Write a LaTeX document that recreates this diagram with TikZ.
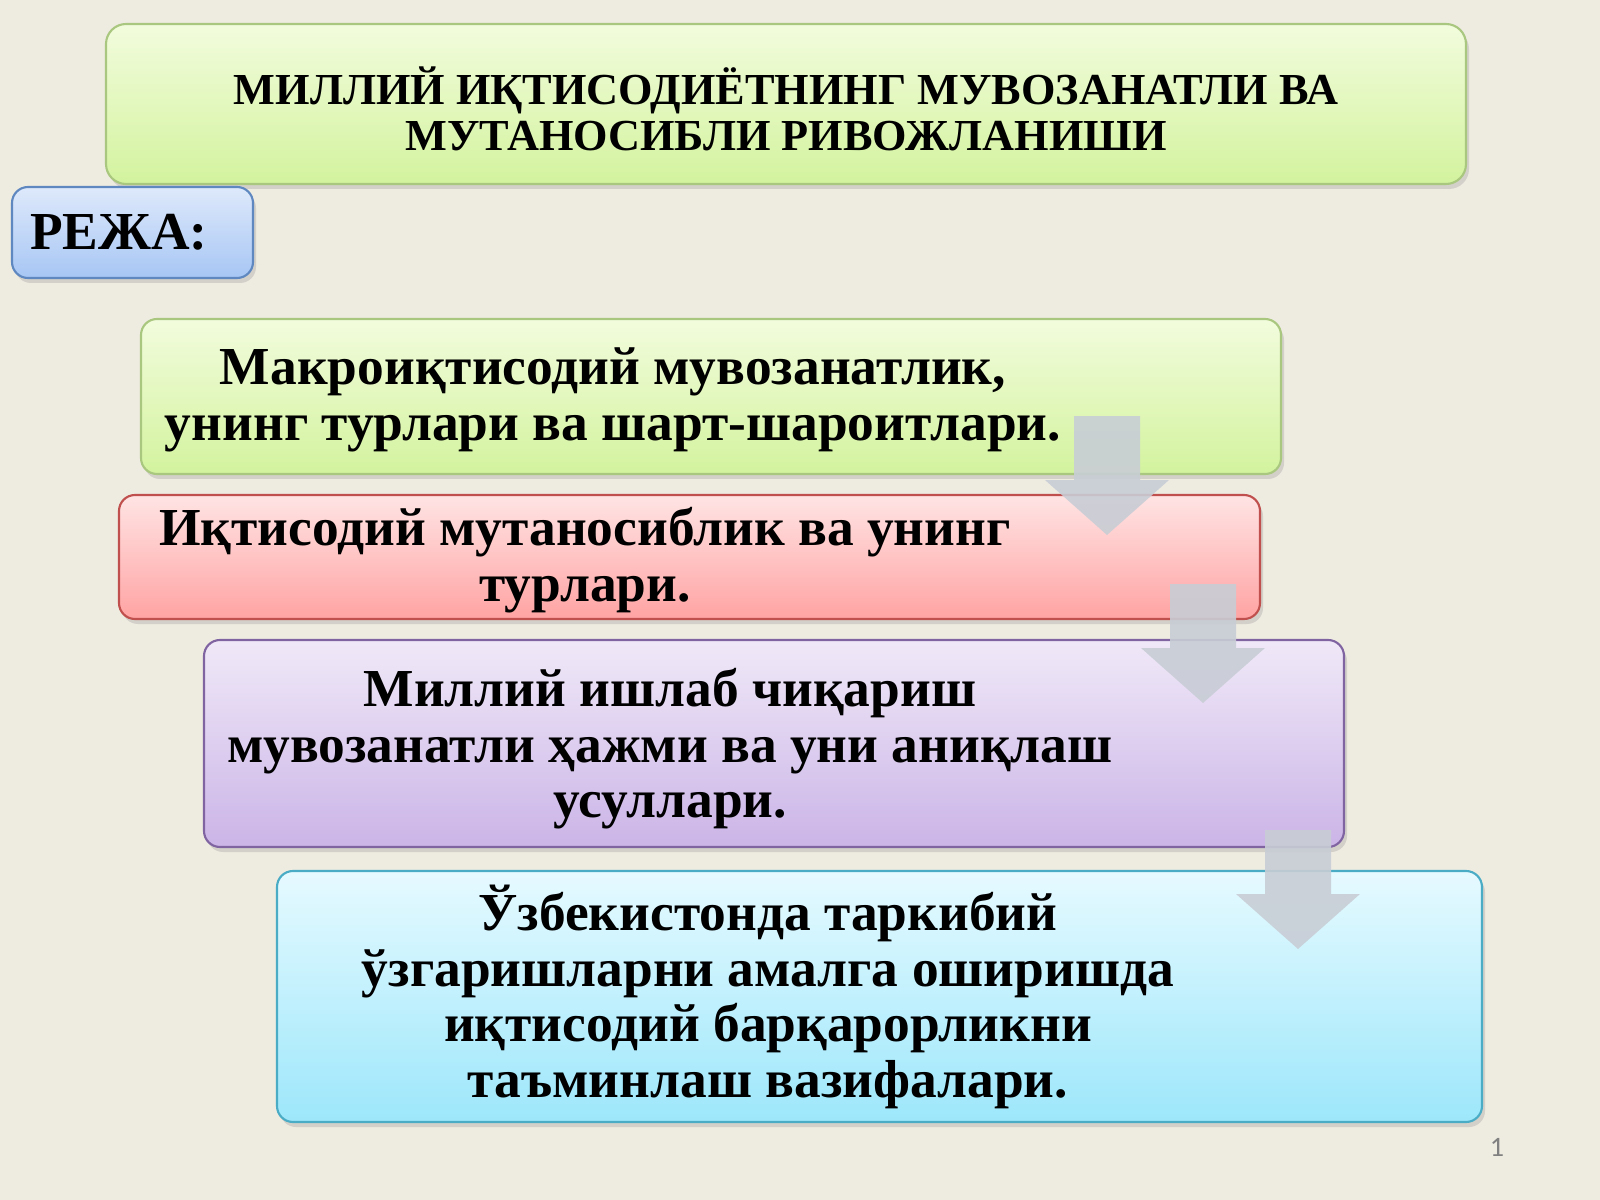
\documentclass[tikz,border=0pt]{standalone}
\usepackage{fontspec}
\setmainfont{Liberation Serif}
\newfontfamily\pagefont{Carlito}
\usetikzlibrary{shadows}

\definecolor{slidebg}{HTML}{EEEBE1}
\definecolor{greentop}{HTML}{F2FCDD}
\definecolor{greenbot}{HTML}{D3F39E}
\definecolor{greenline}{HTML}{A9C77E}
\definecolor{redtop}{HTML}{FFE4E4}
\definecolor{redbot}{HTML}{FFA3A3}
\definecolor{redline}{HTML}{C0504D}
\definecolor{lilactop}{HTML}{F0E9F8}
\definecolor{lilacbot}{HTML}{CBB4E7}
\definecolor{lilacline}{HTML}{8064A2}
\definecolor{cyantop}{HTML}{E6FAFF}
\definecolor{cyanbot}{HTML}{9DE7FB}
\definecolor{cyanline}{HTML}{4BACC6}
\definecolor{bluetop}{HTML}{DEE9FB}
\definecolor{bluebot}{HTML}{A7C6F4}
\definecolor{blueline}{HTML}{5F88C0}
\definecolor{arrowgray}{HTML}{C8CDD5}

\begin{document}
\begin{tikzpicture}[
  x=0.1mm, y=-0.1mm,
  plate/.style={rounded corners=1.6mm, line width=0.6pt, inner sep=0pt,
    drop shadow={shadow xshift=0.3mm, shadow yshift=-0.5mm, opacity=0.25}},
  greenplate/.style={plate, draw=greenline, top color=greentop, bottom color=greenbot},
  redplate/.style={plate, draw=redline, top color=redtop, bottom color=redbot},
  lilacplate/.style={plate, draw=lilacline, top color=lilactop, bottom color=lilacbot},
  cyanplate/.style={plate, draw=cyanline, top color=cyantop, bottom color=cyanbot},
  blueplate/.style={plate, draw=blueline, top color=bluetop, bottom color=bluebot},
  bodytext/.style={font=\fontsize{15.2}{15.8}\selectfont\bfseries, align=center, inner sep=0pt},
  headtext/.style={font=\fontsize{12.6}{13.1}\selectfont\bfseries, align=center, inner sep=0pt},
  downarrow/.pic={
    \fill[arrowgray, opacity=0.9] (-33,0) -- (33,0) -- (33,64) -- (62,64) -- (0,119)
      -- (-62,64) -- (-33,64) -- cycle;
  }
]
\fill[slidebg] (0,0) rectangle (1600,1200);

% title and plan label
\node[greenplate, rounded corners=2mm, minimum width=136mm, minimum height=16mm] (title) at (786,104) {};
\node[headtext] (titletext) at (786,109) {МИЛЛИЙ ИҚТИСОДИЁТНИНГ МУВОЗАНАТЛИ ВА\\МУТАНОСИБЛИ РИВОЖЛАНИШИ};
\node[blueplate, minimum width=24.1mm, minimum height=9.1mm] (plan) at (132.5,232.5) {};
\node[bodytext] (plantext) at (119,232) {РЕЖА:};

% the four topics
\node[greenplate, minimum width=114mm, minimum height=15.5mm] (macro) at (711,396.5) {};
\node[bodytext] (macrotext) at (613,400) {Макроиқтисодий мувозанатлик,\\унинг турлари ва шарт-шароитлари.};
\node[redplate, minimum width=114.1mm, minimum height=12.4mm] (balance) at (689.5,557) {};
\node[bodytext] (balancetext) at (585,560) {Иқтисодий мутаносиблик ва унинг\\турлари.};
\node[lilacplate, minimum width=114mm, minimum height=20.7mm] (output) at (774,743.5) {};
\node[bodytext] (outputtext) at (670,749) {Миллий ишлаб чиқариш\\мувозанатли ҳажми ва уни аниқлаш\\усуллари.};
\node[cyanplate, minimum width=120.5mm, minimum height=25.1mm] (reform) at (879.5,996.5) {};
\node[bodytext] (reformtext) at (768,997) {Ўзбекистонда таркибий\\ўзгаришларни амалга оширишда\\иқтисодий барқарорликни\\таъминлаш вазифалари.};

% block arrows between the topics
\pic (arrowA) at (1107,416) {downarrow};
\pic (arrowB) at (1203,584) {downarrow};
\pic (arrowC) at (1298,830) {downarrow};

\node[font=\pagefont\fontsize{8}{9}\selectfont, text=gray] (pageno) at (1497,1147) {1};
\end{tikzpicture}
\end{document}
